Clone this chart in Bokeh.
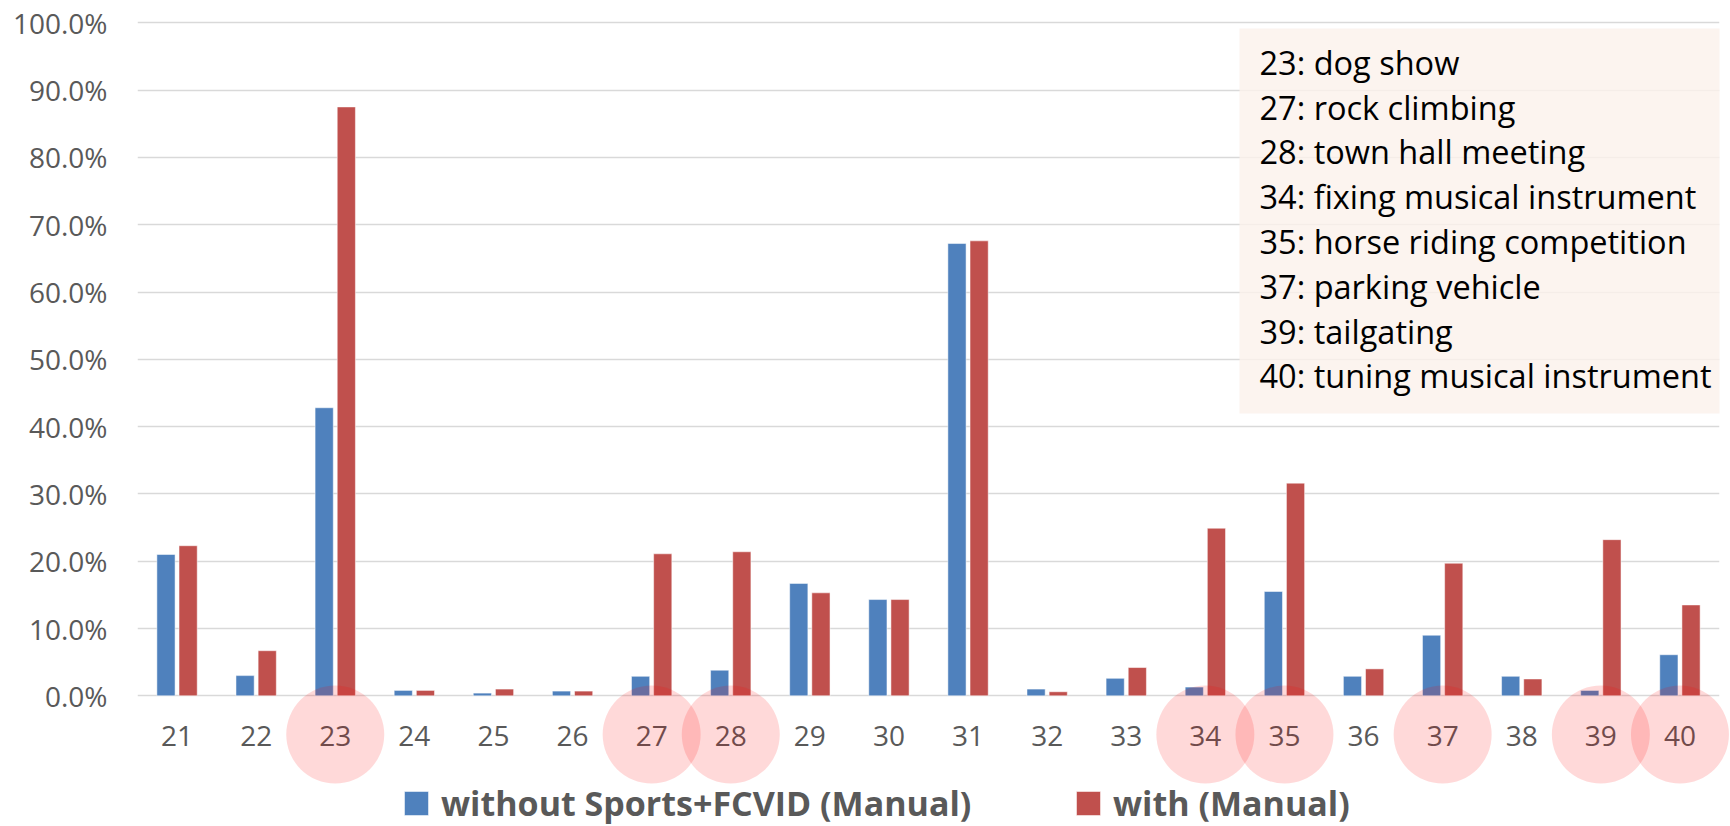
from bokeh.plotting import figure
from bokeh.models import (FactorRange, Range1d, FixedTicker, NumeralTickFormatter,
                          Legend, LegendItem, ColumnDataSource)
from bokeh.transform import dodge
from bokeh.core.properties import value
from bokeh.embed import file_html
from bokeh.resources import INLINE

# ---------------- data ----------------
categories = [str(c) for c in range(21, 41)]
without_sports = [0.210, 0.030, 0.428, 0.008, 0.004, 0.007, 0.029, 0.038, 0.167, 0.143,
                  0.672, 0.010, 0.026, 0.013, 0.155, 0.029, 0.090, 0.029, 0.008, 0.061]
with_manual = [0.223, 0.067, 0.875, 0.008, 0.010, 0.007, 0.211, 0.214, 0.153, 0.143,
               0.676, 0.006, 0.042, 0.249, 0.316, 0.040, 0.197, 0.025, 0.232, 0.135]
highlighted = ["23", "27", "28", "34", "35", "37", "39", "40"]
topics = ["23: dog show", "27: rock climbing", "28: town hall meeting",
          "34: fixing musical instrument", "35: horse riding competition",
          "37: parking vehicle", "39: tailgating", "40: tuning musical instrument"]
y_ticks = [i / 10 for i in range(0, 11)]
series_names = ["without Sports+FCVID (Manual)", "with (Manual)"]

# ---------------- geometry (page pixels) ----------------
W, H = 1730, 826
B_LEFT, B_RIGHT, B_TOP, B_BOTTOM = 137, 11, 18, 0
FRAME_H = H - B_TOP - B_BOTTOM
UNIT_X = (W - B_LEFT - B_RIGHT) / len(categories)
PX_PER_Y = 673.0
Y_END = 1.0 + (22.3 - B_TOP) / PX_PER_Y
Y_START = Y_END - FRAME_H / PX_PER_Y


def x_of(px):
    return (px - B_LEFT) / UNIT_X


def y_of(py):
    return Y_END - (py - B_TOP) / PX_PER_Y


BLUE = "#4F81BD"
RED = "#C0504D"
GREY = "#595959"

p = figure(width=W, height=H, x_range=FactorRange(*categories),
           y_range=Range1d(Y_START, Y_END), output_backend="svg",
           toolbar_location=None, min_border_left=B_LEFT, min_border_right=B_RIGHT,
           min_border_top=B_TOP, min_border_bottom=B_BOTTOM)
p.outline_line_color = None
p.background_fill_color = "white"
p.border_fill_color = "white"

src = ColumnDataSource(dict(cat=categories, a=without_sports, b=with_manual))

r1 = p.vbar(x=dodge("cat", -0.14, range=p.x_range), top="a", bottom=0, width=0.23,
            source=src, fill_color=BLUE, line_color="white", line_alpha=0.5, line_width=1)
r2 = p.vbar(x=dodge("cat", 0.14, range=p.x_range), top="b", bottom=0, width=0.23,
            source=src, fill_color=RED, line_color="white", line_alpha=0.5, line_width=1)

# grid
p.xgrid.grid_line_color = None
p.ygrid.grid_line_color = "#D9D9D9"
p.ygrid.grid_line_width = 1.5

# y axis
p.yaxis.ticker = FixedTicker(ticks=y_ticks)
p.yaxis.formatter = NumeralTickFormatter(format="0.0%")
p.yaxis.axis_line_color = None
p.yaxis.major_tick_line_color = None
p.yaxis.minor_tick_line_color = None
p.yaxis.major_tick_out = 0
p.yaxis.major_tick_in = 0
p.yaxis.major_label_standoff = 30
p.yaxis.major_label_text_font = "Open Sans"
p.yaxis.major_label_text_font_size = "28px"
p.yaxis.major_label_text_color = GREY

# x axis placed at y=0 inside the frame
p.xaxis.fixed_location = 0
p.xaxis.axis_line_color = None
p.xaxis.major_tick_line_color = None
p.xaxis.minor_tick_line_color = None
p.xaxis.major_tick_out = 0
p.xaxis.major_tick_in = 0
p.xaxis.major_label_standoff = 30
p.xaxis.major_label_text_font = "Open Sans"
p.xaxis.major_label_text_font_size = "28px"
p.xaxis.major_label_text_color = GREY

# highlight circles over the category labels
p.scatter(x=highlighted, y=[y_of(734)] * len(highlighted), marker="circle", size=98,
          fill_color="#FF0000", fill_alpha=0.15, line_color=None, level="overlay")

# topic box
p.quad(left=[x_of(1239)], right=[x_of(1740)], top=[y_of(28)], bottom=[y_of(413)],
       fill_color="#FBF1EB", fill_alpha=0.82, line_color=None)
p.text(x=[x_of(1259)] * len(topics), y=[y_of(61.7 + 44.8 * i) for i in range(len(topics))],
       text=topics, text_font=value("Open Sans"), text_font_size="32.5px",
       text_color="black", text_baseline="middle", text_align="left")

# legends (legend glyph area is drawn at 80%, so 30px area gives a 24px square)
common = dict(orientation="horizontal", glyph_width=30, glyph_height=30, label_standoff=10,
              label_text_font="Open Sans", label_text_font_style="bold",
              label_text_font_size="34px", label_text_color=GREY, padding=0, margin=0,
              border_line_color=None, background_fill_alpha=0)
lg1 = Legend(items=[LegendItem(label=series_names[0], renderers=[r1])],
             location=(401 - B_LEFT, 0), **common)
lg2 = Legend(items=[LegendItem(label=series_names[1], renderers=[r2])],
             location=(1073 - B_LEFT, 0), **common)
p.add_layout(lg1, "center")
p.add_layout(lg2, "center")

open("out.html", "w").write(file_html(p, INLINE))
